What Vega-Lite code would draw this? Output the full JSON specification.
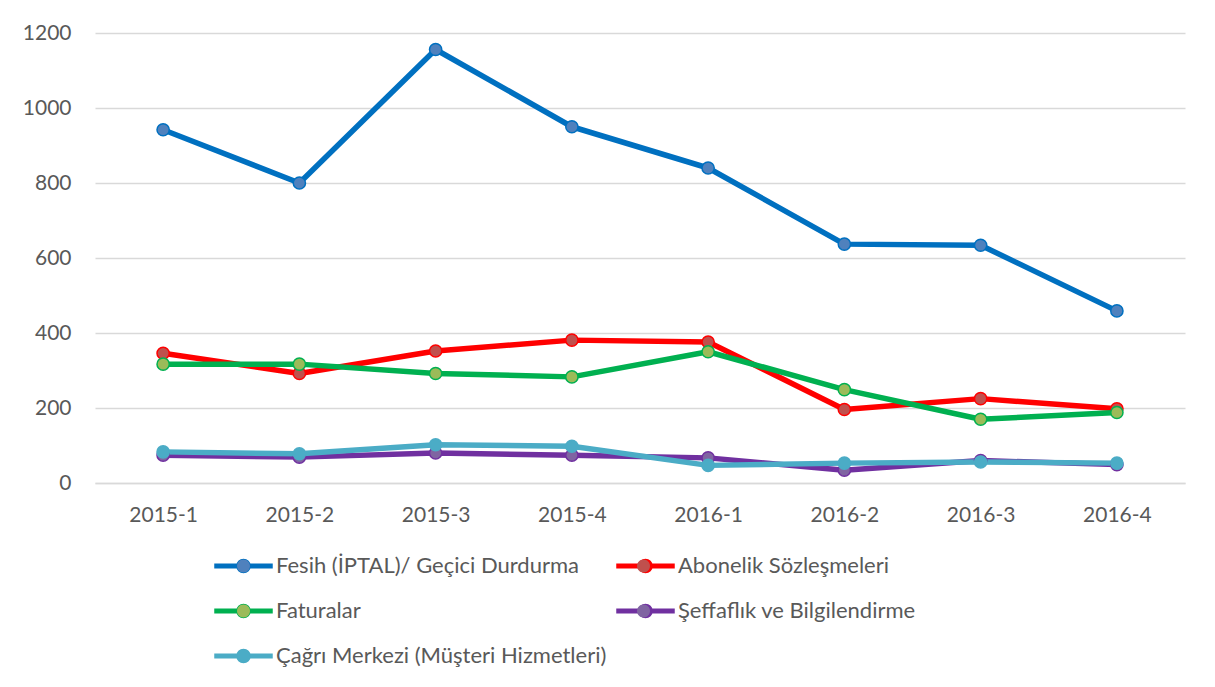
{
  "$schema": "https://vega.github.io/schema/vega-lite/v6.json",
  "width": 1090,
  "height": 450,
  "autosize": {"type": "none"},
  "padding": {"left": 95, "top": 33, "right": 30, "bottom": 204},
  "background": "white",
  "config": {
    "font": "Lato",
    "view": {"stroke": null},
    "axis": {"labelFont": "Lato", "labelFontSize": 21, "labelColor": "#595959", "ticks": false, "title": null}
  },
  "data": {
    "values": [
      {"period": "2015-1", "series": "Fesih (İPTAL)/ Geçici Durdurma", "value": 942},
      {"period": "2015-2", "series": "Fesih (İPTAL)/ Geçici Durdurma", "value": 800},
      {"period": "2015-3", "series": "Fesih (İPTAL)/ Geçici Durdurma", "value": 1156},
      {"period": "2015-4", "series": "Fesih (İPTAL)/ Geçici Durdurma", "value": 950},
      {"period": "2016-1", "series": "Fesih (İPTAL)/ Geçici Durdurma", "value": 840},
      {"period": "2016-2", "series": "Fesih (İPTAL)/ Geçici Durdurma", "value": 637},
      {"period": "2016-3", "series": "Fesih (İPTAL)/ Geçici Durdurma", "value": 634},
      {"period": "2016-4", "series": "Fesih (İPTAL)/ Geçici Durdurma", "value": 459},
      {"period": "2015-1", "series": "Abonelik Sözleşmeleri", "value": 346},
      {"period": "2015-2", "series": "Abonelik Sözleşmeleri", "value": 292},
      {"period": "2015-3", "series": "Abonelik Sözleşmeleri", "value": 352},
      {"period": "2015-4", "series": "Abonelik Sözleşmeleri", "value": 381},
      {"period": "2016-1", "series": "Abonelik Sözleşmeleri", "value": 376},
      {"period": "2016-2", "series": "Abonelik Sözleşmeleri", "value": 196},
      {"period": "2016-3", "series": "Abonelik Sözleşmeleri", "value": 225},
      {"period": "2016-4", "series": "Abonelik Sözleşmeleri", "value": 198},
      {"period": "2015-1", "series": "Faturalar", "value": 317},
      {"period": "2015-2", "series": "Faturalar", "value": 317},
      {"period": "2015-3", "series": "Faturalar", "value": 292},
      {"period": "2015-4", "series": "Faturalar", "value": 283},
      {"period": "2016-1", "series": "Faturalar", "value": 350},
      {"period": "2016-2", "series": "Faturalar", "value": 249},
      {"period": "2016-3", "series": "Faturalar", "value": 170},
      {"period": "2016-4", "series": "Faturalar", "value": 188},
      {"period": "2015-1", "series": "Şeffaflık ve Bilgilendirme", "value": 74},
      {"period": "2015-2", "series": "Şeffaflık ve Bilgilendirme", "value": 69},
      {"period": "2015-3", "series": "Şeffaflık ve Bilgilendirme", "value": 80},
      {"period": "2015-4", "series": "Şeffaflık ve Bilgilendirme", "value": 74},
      {"period": "2016-1", "series": "Şeffaflık ve Bilgilendirme", "value": 67},
      {"period": "2016-2", "series": "Şeffaflık ve Bilgilendirme", "value": 34},
      {"period": "2016-3", "series": "Şeffaflık ve Bilgilendirme", "value": 60},
      {"period": "2016-4", "series": "Şeffaflık ve Bilgilendirme", "value": 49},
      {"period": "2015-1", "series": "Çağrı Merkezi (Müşteri Hizmetleri)", "value": 83},
      {"period": "2015-2", "series": "Çağrı Merkezi (Müşteri Hizmetleri)", "value": 78},
      {"period": "2015-3", "series": "Çağrı Merkezi (Müşteri Hizmetleri)", "value": 102},
      {"period": "2015-4", "series": "Çağrı Merkezi (Müşteri Hizmetleri)", "value": 98},
      {"period": "2016-1", "series": "Çağrı Merkezi (Müşteri Hizmetleri)", "value": 47},
      {"period": "2016-2", "series": "Çağrı Merkezi (Müşteri Hizmetleri)", "value": 53},
      {"period": "2016-3", "series": "Çağrı Merkezi (Müşteri Hizmetleri)", "value": 56},
      {"period": "2016-4", "series": "Çağrı Merkezi (Müşteri Hizmetleri)", "value": 53}
    ]
  },
  "encoding": {
    "x": {
      "field": "period", "type": "ordinal",
      "scale": {"type": "point", "padding": 0.5},
      "axis": {"labelAngle": 0, "labelPadding": 21, "domain": true, "domainColor": "#d9d9d9", "domainWidth": 1.3, "grid": false}
    },
    "y": {
      "field": "value", "type": "quantitative",
      "scale": {"domain": [0, 1200], "nice": false},
      "axis": {"values": [0, 200, 400, 600, 800, 1000, 1200], "format": "d", "labelPadding": 24, "domain": false, "grid": true, "gridColor": "#d9d9d9", "gridWidth": 1.3}
    }
  },
  "layer": [
    {
      "mark": {"type": "line", "strokeWidth": 5.5, "strokeCap": "round", "strokeJoin": "round"},
      "encoding": {
        "color": {
          "field": "series", "type": "nominal",
          "scale": {
            "domain": ["Fesih (İPTAL)/ Geçici Durdurma", "Abonelik Sözleşmeleri", "Faturalar", "Şeffaflık ve Bilgilendirme", "Çağrı Merkezi (Müşteri Hizmetleri)"],
            "range": ["#0070C0", "#FF0000", "#00B050", "#7030A0", "#4BACC6"]
          },
          "legend": {
            "title": null, "orient": "none", "legendX": 119, "legendY": 522, "padding": 0,
            "direction": "horizontal", "columns": 2, "columnPadding": 7, "rowPadding": 23,
            "symbolType": "M-1,-0.18H4.7V0.18H-1Z M2.5,0A0.65,0.65 0 1,1 1.2,0A0.65,0.65 0 1,1 2.5,0Z",
            "symbolSize": 400, "symbolStrokeWidth": 1.5,
            "labelFont": "Lato", "labelFontSize": 22, "labelColor": "#595959", "labelOffset": 40, "labelLimit": 600,
            "encode": {"symbols": {"update": {"fill": {"scale": "color", "field": "value"}, "stroke": {"scale": "color", "field": "value"}, "opacity": {"value": 1}}}}
          }
        }
      }
    },
    {
      "mark": {"type": "point", "filled": true, "size": 150, "strokeWidth": 1.5, "opacity": 1},
      "encoding": {
        "fill": {
          "field": "series", "type": "nominal",
          "sort": ["Fesih (İPTAL)/ Geçici Durdurma", "Abonelik Sözleşmeleri", "Faturalar", "Şeffaflık ve Bilgilendirme", "Çağrı Merkezi (Müşteri Hizmetleri)"],
          "scale": {
            "range": ["#4F81BD", "#C0504D", "#9BBB59", "#8064A2", "#4BACC6"]
          },
          "legend": {
            "title": null, "orient": "none", "legendX": 119, "legendY": 522, "padding": 0,
            "direction": "horizontal", "columns": 2, "columnPadding": 7, "rowPadding": 23,
            "symbolType": "M2.5,0A0.65,0.65 0 1,1 1.2,0A0.65,0.65 0 1,1 2.5,0Z",
            "symbolSize": 400, "symbolStrokeWidth": 1.5,
            "labelFont": "Lato", "labelFontSize": 22, "labelColor": "#595959", "labelOpacity": 0, "labelOffset": 40, "labelLimit": 600,
            "encode": {"symbols": {"update": {"fill": {"scale": "fill", "field": "value"}, "stroke": {"scale": "stroke", "field": "value"}, "strokeWidth": {"value": 1.5}, "opacity": {"value": 1}}}}
          }
        },
        "stroke": {
          "field": "series", "type": "nominal",
          "sort": ["Fesih (İPTAL)/ Geçici Durdurma", "Abonelik Sözleşmeleri", "Faturalar", "Şeffaflık ve Bilgilendirme", "Çağrı Merkezi (Müşteri Hizmetleri)"],
          "scale": {
            "range": ["#0070C0", "#FF0000", "#00B050", "#7030A0", "#4BACC6"]
          },
          "legend": null
        }
      }
    }
  ]
}
